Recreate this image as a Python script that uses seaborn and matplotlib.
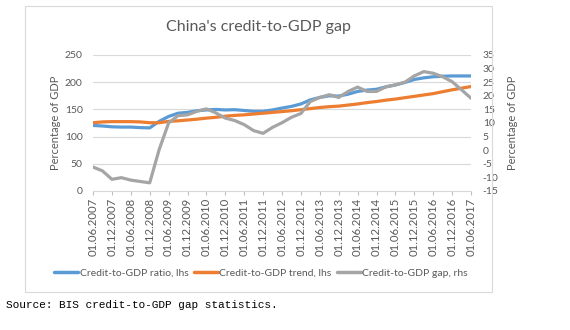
import matplotlib
matplotlib.use("Agg")
import matplotlib.pyplot as plt
import seaborn as sns
import pandas as pd
from matplotlib.patches import Rectangle
from matplotlib.lines import Line2D

# ---- data (quarterly, 2007-06 .. 2017-06) ----
quarters = [f"01.{m:02d}.{y}" for y in range(2007, 2018) for m in (3, 6, 9, 12)][1:-2]
credit_ratio = [120.5, 119.5, 118, 117.5, 117.5, 116.5, 116, 128, 137, 143,
                144.5, 147.5, 149, 150, 149, 149.5, 148, 146.5, 146.5, 149,
                152.5, 155.5, 160, 167.5, 172, 175, 174.5, 178, 183, 185.5,
                187, 191.5, 195, 199.5, 205, 208, 210, 211, 211.5, 211.5, 211.5]
credit_trend = [125.5, 127, 127.5, 127.5, 127.5, 127, 125.5, 125.5, 128, 129,
                130.5, 132, 134, 135.5, 137.5, 139, 140, 141.5, 143, 144.5,
                146, 147.5, 149.5, 151.5, 153.5, 155, 156, 158, 160, 162.5,
                164.5, 167, 169, 171.5, 174, 176.5, 179, 182.5, 186, 189, 192]
credit_gap = [-6.2, -7.6, -10.7, -10.1, -11, -11.5, -12, 0.2, 10, 12.7,
              13, 14.3, 15.2, 13.7, 11.8, 10.9, 9.4, 7.2, 6.2, 8.4,
              10.1, 12.1, 13.5, 17.9, 19.4, 20.4, 19.4, 21.6, 23.2, 21.6,
              21.6, 23.3, 24, 25, 27.3, 28.9, 28.3, 27, 25.2, 22.2, 19.1]
tick_labels = quarters[::2]
left_ticks = [0, 50, 100, 150, 200, 250]
right_ticks = list(range(-15, 36, 5))

title = "China's credit-to-GDP gap"
series_names = ["Credit-to-GDP ratio, lhs", "Credit-to-GDP trend, lhs", "Credit-to-GDP gap, rhs"]
colors = ["#5B9BD5", "#ED7D31", "#A5A5A5"]

df = pd.DataFrame({"idx": range(len(quarters)), "date": quarters,
                   "ratio": credit_ratio, "trend": credit_trend, "gap": credit_gap})

sns.set_theme(style="white")
plt.rcParams["font.family"] = ["Lato", "DejaVu Sans"]
plt.rcParams["axes.unicode_minus"] = False

W, H = 570, 330
fig = plt.figure(figsize=(W / 100, H / 100), dpi=100)
fig.patch.set_facecolor("white")

# chart frame
fig.patches.append(Rectangle((25 / W, 1 - 292 / H), (492 - 25) / W, (292 - 6) / H,
                             transform=fig.transFigure, fill=False,
                             edgecolor="#D9D9D9", lw=0.8))

ax = fig.add_axes([93 / W, 1 - 191 / H, (471 - 93) / W, (191 - 55) / H])
ax2 = ax.twinx()

lw = 2.3
sns.lineplot(data=df, x="idx", y="ratio", ax=ax, color=colors[0], lw=lw, zorder=3)
sns.lineplot(data=df, x="idx", y="trend", ax=ax, color=colors[1], lw=lw, zorder=3)
sns.lineplot(data=df, x="idx", y="gap", ax=ax2, color=colors[2], lw=lw, zorder=3)

txtc = "#595959"
ax.set_xlim(0, len(quarters) - 1)
ax.set_ylim(0, 250)
ax2.set_ylim(-15, 35)
ax.set_yticks(left_ticks)
ax2.set_yticks(right_ticks)
ax.set_xticks(range(0, len(quarters), 2))
ax.set_xticklabels(tick_labels, rotation=90, fontsize=8.2, color=txtc)
ax.set_yticklabels([str(t) for t in left_ticks], fontsize=7.5, color=txtc)
ax2.set_yticklabels([str(t) for t in right_ticks], fontsize=7.5, color=txtc)

ax.grid(axis="y", color="#D9D9D9", lw=0.8)
ax.set_axisbelow(True)
for a in (ax, ax2):
    for s in a.spines.values():
        s.set_visible(False)
ax.spines["bottom"].set_visible(True)
ax.spines["bottom"].set_color("#D9D9D9")
ax.spines["bottom"].set_linewidth(0.8)

ax.tick_params(axis="x", length=3, color="#BFBFBF", width=0.8, pad=2, bottom=True)
ax.tick_params(axis="y", length=0, pad=7.5)
ax2.tick_params(axis="y", length=0, pad=8.5)

ax.set_xlabel("")
ax.set_ylabel("Percentage of GDP", fontsize=8, color=txtc, labelpad=3)
ax2.set_ylabel("Percentage of GDP", fontsize=8, color=txtc, labelpad=6)

fig.text(258.5 / W, 1 - 27 / H, title, ha="center", va="center",
         fontsize=11.5, color=txtc)

handles = [Line2D([0], [0], color=c, lw=2.5) for c in colors]
fig.legend(handles, series_names, loc="center", bbox_to_anchor=(261 / W, 1 - 273 / H),
           ncol=3, frameon=False, fontsize=7.5, handlelength=2.3, handletextpad=0.15,
           columnspacing=0.5, labelcolor=txtc)

fig.text(6 / W, 1 - 305 / H, "Source: BIS credit-to-GDP gap statistics.",
         ha="left", va="center", fontsize=8, family="Liberation Mono", color="black")

fig.savefig("out.png", dpi=100)
